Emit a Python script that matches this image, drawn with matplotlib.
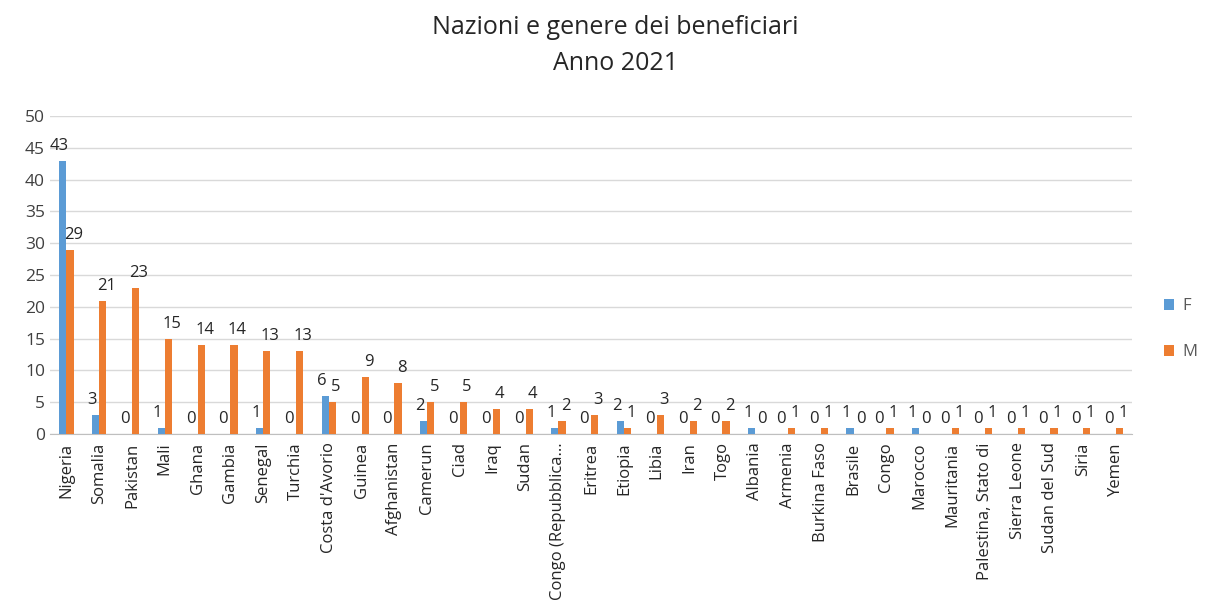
import numpy as np
import matplotlib
matplotlib.use('Agg')
import matplotlib.pyplot as plt

# Beneficiaries by nationality and gender, year 2021
countries = [
    "Nigeria", "Somalia", "Pakistan", "Mali", "Ghana", "Gambia", "Senegal",
    "Turchia", "Costa d'Avorio", "Guinea", "Afghanistan", "Camerun", "Ciad",
    "Iraq", "Sudan", "Congo (Repubblica...", "Eritrea", "Etiopia", "Libia",
    "Iran", "Togo", "Albania", "Armenia", "Burkina Faso", "Brasile", "Congo",
    "Marocco", "Mauritania", "Palestina, Stato di", "Sierra Leone",
    "Sudan del Sud", "Siria", "Yemen",
]
female = [43, 3, 0, 1, 0, 0, 1, 0, 6, 0, 0, 2, 0, 0, 0, 1, 0, 2, 0, 0, 0,
          1, 0, 0, 1, 0, 1, 0, 0, 0, 0, 0, 0]
male = [29, 21, 23, 15, 14, 14, 13, 13, 5, 9, 8, 5, 5, 4, 4, 2, 3, 1, 3, 2, 2,
        0, 1, 1, 0, 1, 0, 1, 1, 1, 1, 1, 1]

plt.rcParams['font.family'] = ['Open Sans', 'DejaVu Sans']

fig = plt.figure(figsize=(12.19, 6.14), dpi=100)
ax = fig.add_axes([0.041, 0.293, 0.888, 0.518])

x = np.arange(len(countries))
width = 0.22
bars_f = ax.bar(x - width / 2, female, width, color='#5B9BD5', label='F', zorder=3)
bars_m = ax.bar(x + width / 2, male, width, color='#ED7D31', label='M', zorder=3)

# value labels above each bar, nudged apart so neighbouring pairs stay legible
for bars, dx in ((bars_f, -2.5), (bars_m, 2.5)):
    for bar in bars:
        h = bar.get_height()
        ax.annotate(f'{h:.0f}', (bar.get_x() + bar.get_width() / 2, h),
                    xytext=(dx, 5), textcoords='offset points',
                    ha='center', va='bottom', fontsize=12, color='#262626')

ax.set_xlim(-0.5, len(countries) - 0.5)
ax.set_ylim(0, 50)
ax.set_yticks(range(0, 51, 5))
ax.set_xticks(x)
ax.set_xticklabels(countries, rotation=90, fontsize=12, color='#262626')
ax.tick_params(axis='y', labelsize=12.5, colors='#404040', length=0)
ax.tick_params(axis='x', length=0, pad=6)
ax.grid(axis='y', color='#D9D9D9', linewidth=1.0, zorder=0)
for side in ('top', 'right', 'left'):
    ax.spines[side].set_visible(False)
ax.spines['bottom'].set_color('#BFBFBF')

fig.suptitle('Nazioni e genere dei beneficiari\nAnno 2021', x=0.505, y=0.975,
             fontsize=18, color='#262626', linespacing=1.55)

ax.legend(loc='center left', bbox_to_anchor=(1.015, 0.33), frameon=False,
          fontsize=12, labelcolor='#595959', handlelength=0.6, handleheight=0.6,
          handletextpad=0.5, labelspacing=1.8)

plt.savefig('out.png', dpi=100)
plt.close()
